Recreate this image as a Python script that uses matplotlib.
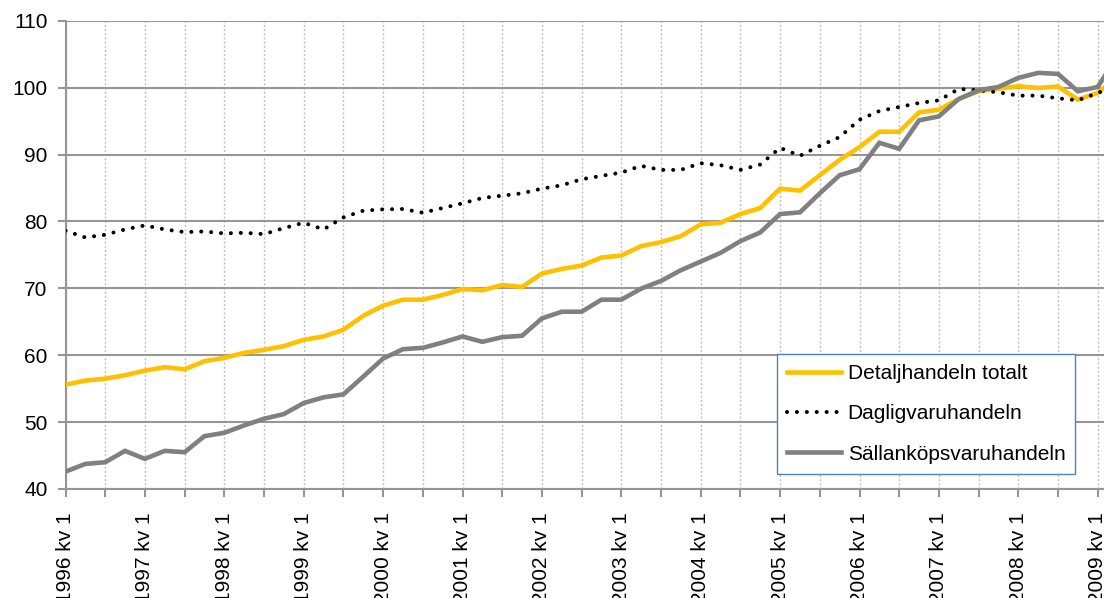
import numpy as np
import matplotlib
matplotlib.use("Agg")
import matplotlib.pyplot as plt

# kvartal 1996 kv1 .. 2009 kv2 (sista punkten ligger utanför bildkanten)
years = list(range(1996, 2010))

detalj = [55.6, 56.2, 56.5, 57.0, 57.7, 58.2, 57.9, 59.1, 59.6, 60.35,
          60.8, 61.35, 62.3, 62.8, 63.8, 65.9, 67.4, 68.3, 68.3, 69.0,
          69.9, 69.7, 70.5, 70.2, 72.2, 72.9, 73.4, 74.6, 74.9, 76.3,
          76.9, 77.8, 79.55, 79.8, 81.1, 82.0, 84.9, 84.6, 86.9, 89.2,
          91.1, 93.4, 93.4, 96.3, 96.7, 98.3, 99.45, 99.85, 100.2, 99.95,
          100.15, 98.2, 99.2, 101.6]

daglig = [78.6, 77.6, 78.0, 78.8, 79.4, 78.8, 78.4, 78.5, 78.2, 78.3,
          78.1, 79.0, 79.8, 78.8, 80.6, 81.6, 81.8, 81.85, 81.3, 82.0,
          82.7, 83.5, 83.85, 84.2, 84.9, 85.4, 86.3, 86.8, 87.3, 88.3,
          87.7, 87.7, 88.7, 88.4, 87.7, 88.5, 91.0, 89.8, 91.3, 92.6,
          95.2, 96.5, 97.1, 97.7, 98.1, 99.8, 99.6, 99.3, 98.8, 98.8,
          98.4, 98.1, 99.2, 100.3]

sallan = [42.6, 43.75, 44.0, 45.7, 44.5, 45.7, 45.5, 47.9, 48.4, 49.5,
          50.5, 51.2, 52.85, 53.7, 54.15, 56.8, 59.5, 60.9, 61.1, 61.9,
          62.8, 62.0, 62.7, 62.9, 65.5, 66.5, 66.5, 68.3, 68.3, 69.95,
          71.1, 72.7, 74.0, 75.3, 77.05, 78.35, 81.1, 81.35, 84.2, 86.9,
          87.8, 91.75, 90.85, 95.1, 95.7, 98.3, 99.6, 100.1, 101.45, 102.2,
          102.05, 99.45, 100.1, 104.7]

labels = ["Detaljhandeln totalt", "Dagligvaruhandeln", "Sällanköpsvaruhandeln"]

plt.rcParams['font.family'] = ['Liberation Sans', 'DejaVu Sans']

W, H = 1104, 598
fig = plt.figure(figsize=(W / 100, H / 100), dpi=100)
x0, ybot, ytop = 65.5, 489, 20.7
ax = fig.add_axes([x0 / W, (H - ybot) / H, (W - x0) / W, (ybot - ytop) / H])

x = np.arange(len(detalj))
grid_c = '#969696'

ax.plot(x, detalj, color='#FFC000', lw=3.3, solid_joinstyle='miter', label=labels[0], zorder=3)
ax.plot(x, daglig, color='black', lw=2.9, linestyle=(0, (0.01, 2.45)),
        dash_capstyle='round', label=labels[1], zorder=4)
ax.plot(x, sallan, color='#808080', lw=3.3, solid_joinstyle='miter', label=labels[2], zorder=5)

ax.set_xlim(0, (W - x0) / 19.85)
ax.set_ylim(40, 110)
ax.set_yticks(np.arange(40, 111, 10))

xt = np.arange(0, len(detalj), 2)
xl = []
for q in xt:
    if q % 4 == 0:
        xl.append(f"{years[q // 4]} kv 1")
    else:
        xl.append("")
ax.set_xticks(xt)
ax.set_xticklabels(xl, rotation=90, va='top', ha='center')

for s in ['top', 'right']:
    ax.spines[s].set_visible(False)
for s in ['left', 'bottom']:
    ax.spines[s].set_color(grid_c)
    ax.spines[s].set_linewidth(1.5)

ax.tick_params(axis='both', colors=grid_c, labelcolor='black', labelsize=15,
               length=6, width=1.5)
ax.tick_params(axis='y', pad=7)
ax.tick_params(axis='x', pad=11)

ax.yaxis.grid(True, color=grid_c, lw=1.5, zorder=1)
ax.xaxis.grid(True, color='#BEBEBE', lw=1.0, linestyle=(0, (1.5, 1.5)), zorder=1)
ax.set_axisbelow(True)

leg = ax.legend(loc='lower left', bbox_to_anchor=(0.685, 0.032, 0.287, 0.254),
                mode='expand', fontsize=15, frameon=True, fancybox=False,
                handlelength=2.6, handletextpad=0.3, borderpad=0.5,
                labelspacing=1.02, borderaxespad=0)
leg.get_frame().set_edgecolor('#4F81BD')
leg.get_frame().set_linewidth(1.0)
leg.get_frame().set_alpha(1)
leg.set_zorder(10)

fig.savefig('out.png', dpi=100)
